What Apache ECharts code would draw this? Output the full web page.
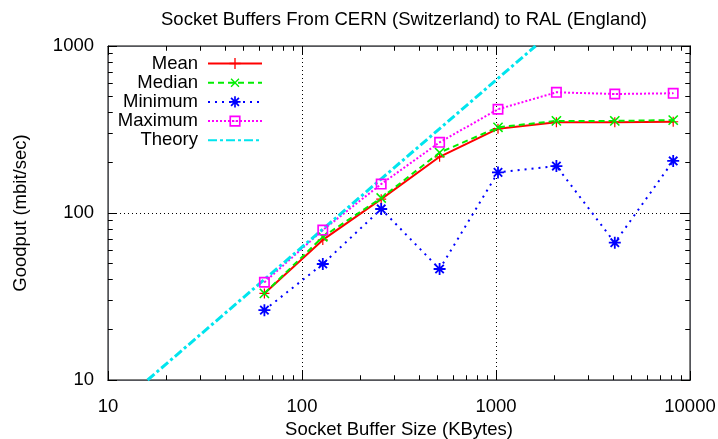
<!DOCTYPE html>
<html>
<head>
<meta charset="utf-8">
<script src="https://cdn.jsdelivr.net/npm/echarts@6/dist/echarts.min.js"></script>
<style>
  html, body { margin: 0; padding: 0; background: #fff; }
  #chart { width: 718px; height: 439px; }
</style>
</head>
<body>
<div id="chart"></div>
<script>
// Socket buffer size in KBytes
const bufferSizes = [64, 128, 256, 512, 1024, 2048, 4096, 8192];
// Goodput in mbit/sec
const meanGoodput   = [33, 69, 121, 217, 320, 349, 350, 352];
const medianGoodput = [33, 72, 123, 230, 326, 356, 356, 360];
const minGoodput    = [26.2, 49.5, 105.7, 46.2, 175, 191, 66.4, 205];
const maxGoodput    = [38.5, 79, 149, 265, 418, 528, 516, 521];
// Theoretical limit (buffer / round-trip time), straight line on log-log axes
const theoryX = [16, 1600];
const theoryY = [10, 1000];

// Tick marks of the frame (axis values)
const xMajorTicks = [10, 100, 1000, 10000];
const yMajorTicks = [10, 100, 1000];
const xMinorTicks = [20,30,40,50,60,70,80,90,200,300,400,500,600,700,800,900,2000,3000,4000,5000,6000,7000,8000,9000];
const yMinorTicks = [20,30,40,50,60,70,80,90,200,300,400,500,600,700,800,900];

const FONT = "'Liberation Sans', Arial, sans-serif";
const FS = 18.5;
const pairs = (xs, ys) => xs.map((x, i) => [x, ys[i]]);

const plusPath = 'path://M-1.2,-10 L1.2,-10 L1.2,-1.2 L10,-1.2 L10,1.2 L1.2,1.2 L1.2,10 L-1.2,10 L-1.2,1.2 L-10,1.2 L-10,-1.2 L-1.2,-1.2 Z';
const starPath = 'path://M-1.5,-10 L1.5,-10 L1.5,-1.5 L10,-1.5 L10,1.5 L1.5,1.5 L1.5,10 L-1.5,10 L-1.5,1.5 L-10,1.5 L-10,-1.5 L-1.5,-1.5 Z ' +
  'M-5.9,-8.1 L8.1,5.9 L5.9,8.1 L-8.1,-5.9 Z M8.1,-5.9 L-5.9,8.1 L-8.1,5.9 L5.9,-8.1 Z';
const squarePath = 'path://M0,0 L20,0 L20,20 L0,20 Z M3,3 L3,17 L17,17 L17,3 Z M9,9 L11,9 L11,11 L9,11 Z';

const tickLine = { color: '#000', width: 1 };

// Log axis with inward decade ticks and 2..9 minor ticks
function logAxis(position, max, extra) {
  return Object.assign({
    type: 'log', logBase: 10, min: 10, max: max, position: position,
    axisLine: { show: true, onZero: false, lineStyle: { color: '#000', width: 1 } },
    axisTick: { show: true, inside: true, length: 9, lineStyle: tickLine },
    minorTick: { show: true, splitNumber: 9, length: 4.5, lineStyle: tickLine },
    axisLabel: { show: false },
    splitLine: { show: false },
    minorSplitLine: { show: false }
  }, extra || {});
}

// Tick-only axes in decades (log10 units), mirrored on the frame edges
function tickAxis(position, lo, hi, ticks, len, off) {
  return {
    type: 'value', min: lo, max: hi, position: position, offset: off,
    axisLine: { show: true, onZero: false },
    axisLabel: { show: false },
    splitLine: { show: false },
    axisTick: { show: true, inside: true, length: len,
                customValues: ticks.map(v => Math.log10(v)), lineStyle: tickLine }
  };
}

const mainLabel = { show: true, fontFamily: FONT, fontSize: FS, color: '#000', formatter: v => String(v) };
const gridLine = { show: true, lineStyle: { color: '#000', width: 1, type: [1, 3] } };

const chart = echarts.init(document.getElementById('chart'), null, { renderer: 'canvas' });

const option = {
  backgroundColor: '#fff',
  animation: false,
  title: {
    text: 'Socket Buffers From CERN (Switzerland) to RAL (England)',
    left: 399, top: 5, textAlign: 'center',
    textStyle: { fontFamily: FONT, fontSize: FS, fontWeight: 'normal', color: '#000' }
  },
  grid: {
    left: 108, right: 28, top: 46, bottom: 59,
    show: true, borderColor: '#000', borderWidth: 1, backgroundColor: 'transparent',
    containLabel: false, outerBoundsMode: 'none'
  },
  legend: {
    orient: 'vertical', align: 'right',
    right: 450, top: 49,
    itemWidth: 54, itemHeight: 14, itemGap: 0.2,
    textStyle: { fontFamily: FONT, fontSize: FS, color: '#000', padding: [0, 5, 0, 0] },
    data: ['Mean', 'Median', 'Minimum', 'Maximum',
           { name: 'Theory', itemStyle: { color: 'rgba(0,0,0,0)', borderWidth: 0 } }]
  },
  xAxis: [
    logAxis('bottom', 10000, {
      name: 'Socket Buffer Size (KBytes)', nameLocation: 'middle', nameGap: 40,
      nameTextStyle: { fontFamily: FONT, fontSize: FS, color: '#000' },
      axisLabel: Object.assign({ margin: 17 }, mainLabel),
      splitLine: gridLine
    }),
    logAxis('top', 10000),
    tickAxis('bottom', 1, 4, xMajorTicks, 9, 0),
    tickAxis('bottom', 1, 4, xMinorTicks, 4.5, 0),
    tickAxis('top', 1, 4, xMajorTicks, 9, 0),
    tickAxis('top', 1, 4, xMinorTicks, 4.5, 0)
  ],
  yAxis: [
    logAxis('left', 1000, {
      name: 'Goodput (mbit/sec)', nameLocation: 'middle', nameGap: 78,
      nameTextStyle: { fontFamily: FONT, fontSize: FS, color: '#000' },
      axisLabel: Object.assign({ margin: 14 }, mainLabel),
      splitLine: gridLine
    }),
    logAxis('right', 1000),
    tickAxis('left', 1, 3, yMajorTicks, 9, 0),
    tickAxis('left', 1, 3, yMinorTicks, 4.5, 0),
    tickAxis('right', 1, 3, yMajorTicks, 9, 0),
    tickAxis('right', 1, 3, yMinorTicks, 4.5, 0)
  ],
  series: [
    {
      name: 'Mean', type: 'line', xAxisIndex: 0, yAxisIndex: 0,
      data: pairs(bufferSizes, meanGoodput),
      symbol: plusPath, symbolSize: 10,
      lineStyle: { color: '#ff0000', width: 2 },
      itemStyle: { color: '#ff0000' }
    },
    {
      name: 'Median', type: 'line', xAxisIndex: 0, yAxisIndex: 0,
      data: pairs(bufferSizes, medianGoodput),
      symbol: plusPath, symbolRotate: 45, symbolSize: 13,
      lineStyle: { color: '#00ee00', width: 2, type: [6, 4] },
      itemStyle: { color: '#00ee00' }
    },
    {
      name: 'Minimum', type: 'line', xAxisIndex: 0, yAxisIndex: 0,
      data: pairs(bufferSizes, minGoodput),
      symbol: starPath, symbolSize: 12,
      lineStyle: { color: '#0000ff', width: 2, type: [2, 5] },
      itemStyle: { color: '#0000ff' }
    },
    {
      name: 'Maximum', type: 'line', xAxisIndex: 0, yAxisIndex: 0,
      data: pairs(bufferSizes, maxGoodput),
      symbol: squarePath, symbolSize: 11,
      lineStyle: { color: '#ff00ff', width: 2, type: [2, 2] },
      itemStyle: { color: '#ff00ff' }
    },
    {
      name: 'Theory', type: 'line', xAxisIndex: 0, yAxisIndex: 0,
      data: pairs(theoryX, theoryY),
      symbol: 'none',
      lineStyle: { color: '#00e5ee', width: 3, type: [9, 3, 3, 3] },
      itemStyle: { color: '#00e5ee' }
    }
  ]
};

chart.setOption(option);
</script>
</body>
</html>
